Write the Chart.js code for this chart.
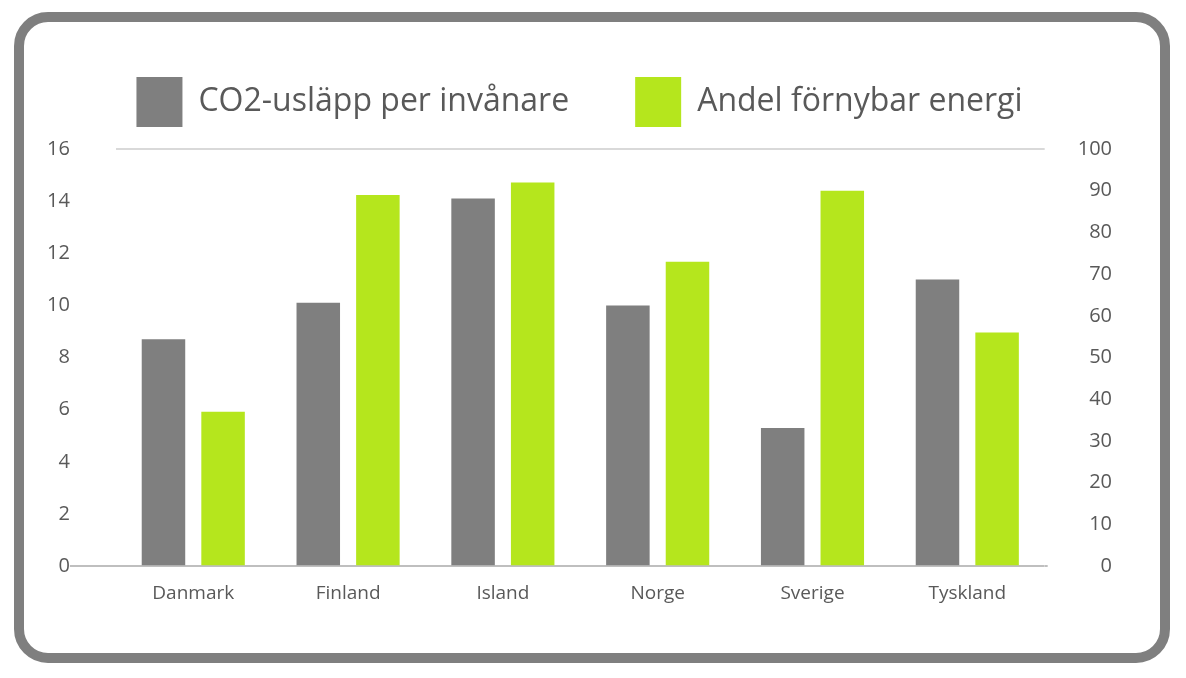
<!DOCTYPE html>
<html lang="sv">
<head>
<meta charset="utf-8">
<title>CO2-utsläpp och förnybar energi</title>
<script src="https://cdn.jsdelivr.net/npm/chart.js@4.4.1/dist/chart.umd.min.js"></script>
<style>
    html, body { margin: 0; padding: 0; background: #ffffff; }
    .wrap { position: relative; width: 1186px; height: 678px; }
    .frame {
        position: absolute; left: 14px; top: 12px; width: 1136px; height: 631px;
        border: 10px solid #7f7f7f; border-radius: 34px; pointer-events: none;
    }
    canvas { position: absolute; left: 0; top: 0; }
</style>
</head>
<body>
<div class="wrap">
    <canvas id="energyChart" width="1186" height="678"></canvas>
    <div class="frame"></div>
</div>
<script>
// Länder och värden
const countries = ['Danmark', 'Finland', 'Island', 'Norge', 'Sverige', 'Tyskland'];
const co2PerCapita = [8.7, 10.1, 14.1, 10.0, 5.3, 11.0];
const renewableShare = [37, 89, 92, 73, 90, 56];

const leftTicks = [0, 2, 4, 6, 8, 10, 12, 14, 16];
const rightTicks = [0, 10, 20, 30, 40, 50, 60, 70, 80, 90, 100];

const textColor = '#595959';
const fontFamily = "'Open Sans', 'Noto Sans', sans-serif";

// legendens höjd styrs separat så att avståndet till diagrammet blir rätt
const legendHeight = {
    id: 'legendHeight',
    beforeInit(chart) {
        const fit = chart.legend.fit;
        chart.legend.fit = function () {
            fit.call(this);
            this.height = 138;
        };
    }
};

function initChart() {
    const ctx = document.getElementById('energyChart').getContext('2d');
    new Chart(ctx, {
        type: 'bar',
        data: {
            labels: countries,
            datasets: [{
                label: 'CO2-usläpp per invånare',
                data: co2PerCapita,
                backgroundColor: '#7f7f7f',
                yAxisID: 'y'
            }, {
                label: 'Andel förnybar energi',
                data: renewableShare,
                backgroundColor: '#b5e61d',
                yAxisID: 'y2'
            }]
        },
        plugins: [legendHeight],
        options: {
            responsive: false,
            animation: false,
            categoryPercentage: 0.77,
            barPercentage: 0.73,
            layout: {
                padding: { top: 11, bottom: 57, left: 47, right: 74 }
            },
            plugins: {
                legend: {
                    display: true,
                    position: 'top',
                    labels: {
                        boxWidth: 46,
                        boxHeight: 50,
                        padding: 66,
                        color: textColor,
                        font: { family: fontFamily, size: 32 }
                    }
                },
                tooltip: { enabled: false }
            },
            scales: {
                x: {
                    grid: { display: false, drawTicks: false },
                    border: { display: false },
                    ticks: {
                        color: textColor,
                        padding: 16,
                        font: { family: fontFamily, size: 19 }
                    }
                },
                y: {
                    position: 'left',
                    min: 0,
                    max: 16,
                    afterBuildTicks: axis => {
                        axis.ticks = leftTicks.map(v => ({ value: v }));
                    },
                    border: { display: false },
                    grid: {
                        tickLength: 46,
                        color: c => (c.tick && (c.tick.value === 16 || c.tick.value === 0)) ?
                            (c.tick.value === 0 ? '#bfbfbf' : '#d9d9d9') : 'rgba(0,0,0,0)',
                        tickColor: c => (c.tick && c.tick.value === 0) ? '#bfbfbf' : 'rgba(0,0,0,0)',
                        lineWidth: 2
                    },
                    ticks: {
                        color: textColor,
                        padding: 0,
                        font: { family: fontFamily, size: 20 }
                    }
                },
                y2: {
                    position: 'right',
                    min: 0,
                    max: 100,
                    afterBuildTicks: axis => {
                        axis.ticks = rightTicks.map(v => ({ value: v }));
                    },
                    border: { display: false },
                    grid: {
                        drawOnChartArea: false,
                        tickLength: 3,
                        lineWidth: 2,
                        tickColor: c => (c.tick && c.tick.value === 0) ? '#bfbfbf' : 'rgba(0,0,0,0)'
                    },
                    ticks: {
                        color: textColor,
                        padding: 15,
                        crossAlign: 'far',
                        font: { family: fontFamily, size: 20 }
                    }
                }
            }
        }
    });
}

document.addEventListener('DOMContentLoaded', initChart);
</script>
</body>
</html>
